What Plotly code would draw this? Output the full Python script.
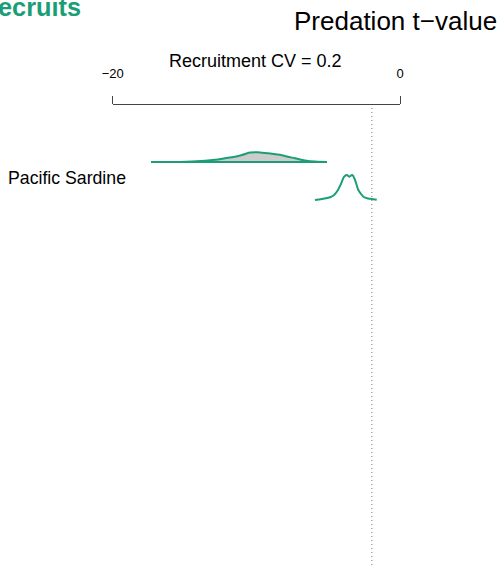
import plotly.graph_objects as go

# ---- data -------------------------------------------------------------
species = ["Pacific Sardine"]
panel_title = "Recruitment CV = 0.2"
axis_title = "Predation t\u2212value"
group_title = "Recruits"
tick_vals = [-20, 0]
tick_text = ["\u221220", "0"]
critical_t = -1.96

# reference distribution (grey, filled)
ref_t = [-17.33, -15.32, -13.57, -12.88, -12.18, -11.49, -11.00, -10.44, -9.88,
         -9.40, -8.91, -8.35, -7.87, -7.31, -6.61, -5.92, -5.08]
ref_dens = [0.000, 0.001, 0.017, 0.029, 0.049, 0.070, 0.092, 0.124, 0.128,
            0.118, 0.109, 0.095, 0.072, 0.049, 0.020, 0.005, 0.000]

# Pacific Sardine distribution (green line)
sar_t = [-5.92, -5.43, -4.87, -4.59, -4.32, -4.11, -3.90, -3.71, -3.53,
         -3.32, -3.13, -2.90, -2.71, -2.55, -2.23, -1.97, -1.62]
sar_dens = [0.001, 0.013, 0.036, 0.066, 0.132, 0.211, 0.303, 0.329, 0.307,
            0.329, 0.263, 0.132, 0.079, 0.043, 0.020, 0.013, 0.004]

# ---- styling ----------------------------------------------------------
W, H = 503, 565
GREEN = "#1b9e77"
FONT = "Liberation Sans, Arial, sans-serif"
ridge_scale = 2.0          # row units per density unit
ref_row, sar_row = 0.0, -1.0
axis_px_top = 105

fig = go.Figure()

fig.add_trace(go.Scatter(
    x=ref_t, y=[ref_row + ridge_scale * d for d in ref_dens],
    mode="lines", line=dict(color=GREEN, width=2, shape="spline"),
    fill="toself", fillcolor="#cccccc", hoverinfo="skip", showlegend=False))
fig.add_trace(go.Scatter(
    x=[ref_t[0], ref_t[-1]], y=[ref_row, ref_row],
    mode="lines", line=dict(color=GREEN, width=2),
    hoverinfo="skip", showlegend=False))

fig.add_trace(go.Scatter(
    x=sar_t, y=[sar_row + ridge_scale * d for d in sar_dens],
    mode="lines", line=dict(color=GREEN, width=2, shape="spline"),
    hoverinfo="skip", showlegend=False))

# group heading, clipped at the page edge by a full-page subplot
fig.add_trace(go.Scatter(
    x=[0.161], y=[0.983], xaxis="x2", yaxis="y2",
    mode="text", text=["<b>" + group_title + "</b>"],
    textposition="middle left", cliponaxis=True,
    textfont=dict(size=25.3, color=GREEN, family=FONT),
    hoverinfo="skip", showlegend=False))

# critical value reference line
fig.add_shape(type="line", xref="x", yref="y domain",
              x0=critical_t, x1=critical_t, y0=0, y1=1,
              line=dict(color="#777777", width=1, dash="1px,3px"))

fig.update_layout(
    template="none",
    width=W, height=H,
    margin=dict(l=0, r=0, t=0, b=0, pad=0, autoexpand=False),
    paper_bgcolor="white", plot_bgcolor="rgba(0,0,0,0)",
    font=dict(family=FONT, color="black"),
    showlegend=False,
    xaxis=dict(domain=[112.7 / W, 400 / W], range=[-20, 0], side="top",
               showline=True, linecolor="#444444", linewidth=1,
               ticks="outside", ticklen=8, tickwidth=1, tickcolor="#444444",
               tickvals=tick_vals, ticktext=tick_text,
               tickfont=dict(size=13, color="black"),
               ticklabelstandoff=13, automargin=False,
               showgrid=False, zeroline=False, fixedrange=True),
    yaxis=dict(domain=[0, 1 - axis_px_top / H],
               range=[1.5 - (H - axis_px_top) / 38.0, 1.5],
               visible=False, showgrid=False, zeroline=False,
               automargin=False, fixedrange=True),
    xaxis2=dict(domain=[0, 1], range=[0, 1], visible=False,
                automargin=False, anchor="y2", fixedrange=True),
    yaxis2=dict(domain=[0, 1], range=[0, 1], visible=False,
                automargin=False, anchor="x2", fixedrange=True),
    annotations=[
        dict(text=axis_title, xref="paper", yref="paper",
             x=499 / W, y=1 - 21 / H, xanchor="right", yanchor="middle",
             showarrow=False, font=dict(size=26, color="black")),
        dict(text=panel_title, xref="paper", yref="paper",
             x=256 / W, y=1 - 61 / H, xanchor="center", yanchor="middle",
             showarrow=False, font=dict(size=18, color="black")),
        dict(text=species[0], xref="paper", yref="paper",
             x=6 / W, y=1 - 178 / H, xanchor="left", yanchor="middle",
             showarrow=False, font=dict(size=17.7, color="black")),
    ],
)

fig.write_html("out.html")
